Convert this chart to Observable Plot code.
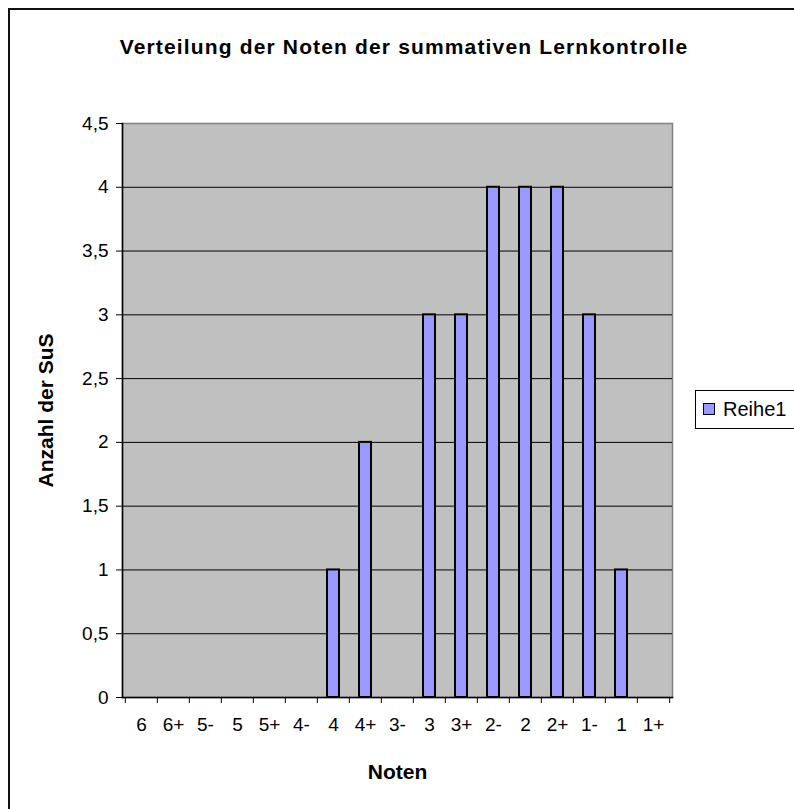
<!DOCTYPE html>
<html>
<head>
<meta charset="utf-8">
<script src="https://cdn.jsdelivr.net/npm/d3@7"></script>
<script src="https://cdn.jsdelivr.net/npm/@observablehq/plot@0.6"></script>
<style>
  html, body { margin: 0; padding: 0; background: #fff; }
  #wrap { position: relative; width: 794px; height: 809px; overflow: hidden; font-family: "Liberation Sans", Arial, sans-serif; }
  #frame { position: absolute; left: 8px; top: 8px; width: 900px; height: 900px; border-left: 2px solid #111; border-top: 2px solid #111; box-sizing: border-box; }
  #title { position: absolute; left: 0; top: 35px; width: 808px; text-align: center; font-weight: bold; font-size: 21px; letter-spacing: 1.15px; }
  #legend { position: absolute; left: 695px; top: 390px; width: 140px; height: 39px; border: 1px solid #000; box-sizing: border-box; background: #fff; font-size: 20px; }
  #legend .sw { position: absolute; left: 7px; top: 12px; width: 12px; height: 12px; background: #9999ff; border: 1.5px solid #000; box-sizing: border-box; }
  #legend .lb { position: absolute; left: 27px; top: 7px; }
  #chart { position: absolute; left: 0; top: 0; }
  #chart svg [aria-label="x-axis tick label"] text, #chart svg [aria-label="y-axis tick label"] text { font-size: 19px; }
  #chart svg [aria-label="x-axis label"] text, #chart svg [aria-label="y-axis label"] text { font-weight: bold; font-size: 21px; }
</style>
</head>
<body>
<div id="wrap">
  <div id="frame"></div>
  <div id="chart"></div>
  <div id="title"></div>
  <div id="legend"><div class="sw"></div><div class="lb"></div></div>
</div>
<script>
const chartTitle = "Verteilung der Noten der summativen Lernkontrolle";
const xTitle = "Noten";
const yTitle = "Anzahl der SuS";
const seriesName = "Reihe1";
const categories = ["6","6+","5-","5","5+","4-","4","4+","3-","3","3+","2-","2","2+","1-","1","1+"];
const counts = [0,0,0,0,0,0,1,2,0,3,3,4,4,4,3,1,0];
const yTicks = [0,0.5,1,1.5,2,2.5,3,3.5,4,4.5];

const data = categories.map((c, i) => ({note: c, count: counts[i]}));

const W = 794, H = 809, ML = 122, MR = 122, MT = 123, MB = 112;
const step = (W - ML - MR) / categories.length;

const chart = Plot.plot({
  width: W, height: H,
  marginLeft: ML, marginRight: MR, marginTop: MT, marginBottom: MB,
  style: {fontFamily: "'Liberation Sans', Arial, sans-serif", color: "#000", background: "transparent", overflow: "visible"},
  x: {domain: categories, paddingInner: 0.63, paddingOuter: 0.315, align: 0.5, label: null},
  y: {domain: [0, 4.5], label: null},
  marks: [
    Plot.frame({fill: "#c0c0c0", stroke: "#808080", strokeWidth: 1.5}),
    Plot.ruleY(yTicks.filter(t => t > 0 && t < 4.5), {stroke: "#000", strokeWidth: 1}),
    Plot.barY(data.filter(d => d.count > 0), {x: "note", y: "count", fill: "#9999ff", stroke: "#000", strokeWidth: 2}),
    Plot.frame({anchor: "left", stroke: "#000", strokeWidth: 1.5}),
    Plot.frame({anchor: "bottom", stroke: "#000", strokeWidth: 1.5}),
    Plot.axisY({ticks: yTicks, tickSize: 6, tickPadding: 8, tickFormat: d => String(d).replace(".", ","),
      label: yTitle, labelAnchor: "center", labelArrow: false, labelOffset: 84}),
    Plot.axisX({tickSize: 0, tickPadding: 20, label: xTitle, labelAnchor: "center", labelArrow: false, labelOffset: 81}),
    Plot.axisX({ticks: categories, tickSize: 6, tickFormat: () => "", label: null, dx: -step / 2}),
    Plot.axisX({ticks: categories.slice(-1), tickSize: 6, tickFormat: () => "", label: null, dx: step / 2})
  ]
});
document.getElementById("chart").appendChild(chart);
document.getElementById("title").textContent = chartTitle;
document.querySelector("#legend .lb").textContent = seriesName;
</script>
</body>
</html>
